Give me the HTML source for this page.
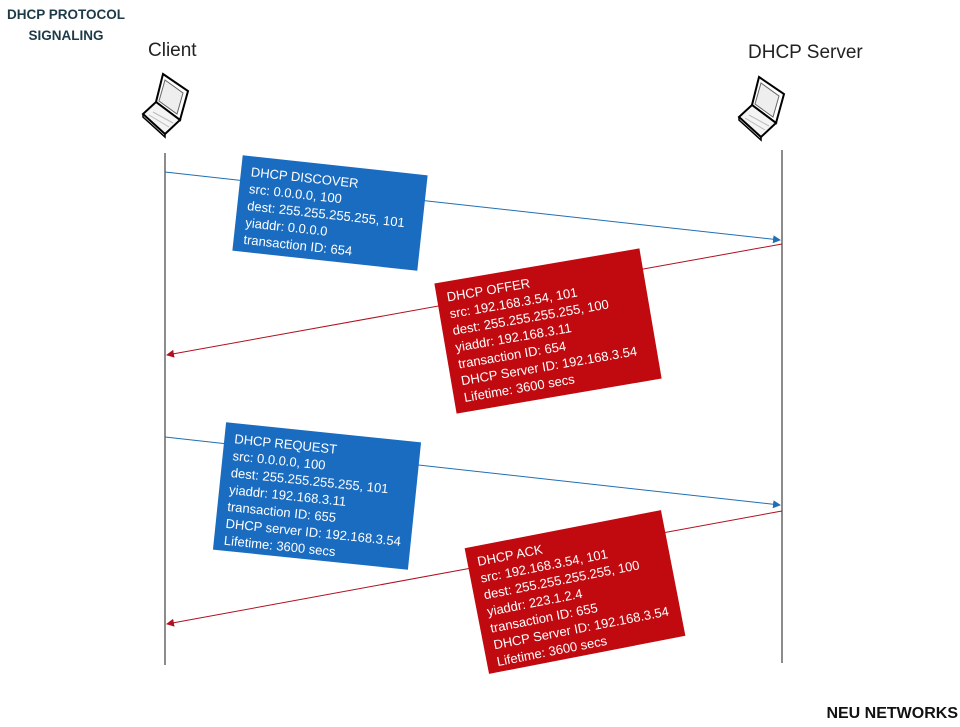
<!DOCTYPE html>
<html><head><meta charset="utf-8"><style>
html,body{margin:0;padding:0;background:#fff;}
svg{display:block;font-family:"Liberation Sans",sans-serif;}
</style></head><body>
<svg width="960" height="727" viewBox="0 0 960 727" xmlns="http://www.w3.org/2000/svg">
<defs>
<marker id="ab" markerWidth="8" markerHeight="8" refX="7" refY="4" orient="auto" markerUnits="userSpaceOnUse"><path d="M0,0 L8,4 L0,8 z" fill="#1f6fb4"/></marker>
<marker id="ar" markerWidth="8" markerHeight="8" refX="7" refY="4" orient="auto" markerUnits="userSpaceOnUse"><path d="M0,0 L8,4 L0,8 z" fill="#b01020"/></marker>
<g id="lap">
<path d="M20,0 L45,17 L37,46 L13,28 Z" fill="#fff" stroke="#000" stroke-width="2"/>
<path d="M22,6 L40,19 L34,40 L16,27 Z" fill="#eee" stroke="#666" stroke-width="1"/>
<path d="M13,28 L37,46 L22,60 L0,40 Z" fill="#f4f4f4" stroke="#000" stroke-width="2"/>
<path d="M0,40 L0,43 L22,63 L22,60" fill="none" stroke="#000" stroke-width="1.5"/>
<path d="M10,38 L30,49 M6,41 L26,53" stroke="#bbb" stroke-width="1"/>
</g>
</defs>
<text x="66" y="19" text-anchor="middle" font-size="13.5" font-weight="bold" fill="#1d3a48">DHCP PROTOCOL</text>
<text x="66" y="40" text-anchor="middle" font-size="13.5" font-weight="bold" fill="#1d3a48">SIGNALING</text>
<text x="148" y="56" font-size="19" fill="#222">Client</text>
<text x="748" y="58" font-size="19" fill="#222">DHCP Server</text>
<use href="#lap" x="143" y="74"/>
<use href="#lap" x="739" y="77"/>
<line x1="165" y1="153" x2="165" y2="665" stroke="#666" stroke-width="1.5"/>
<line x1="782" y1="150" x2="782" y2="663" stroke="#666" stroke-width="1.5"/>
<line x1="165" y1="172" x2="780" y2="240" stroke="#1f6fb4" stroke-width="1" marker-end="url(#ab)"/>
<line x1="782" y1="244" x2="167" y2="355" stroke="#b01020" stroke-width="1" marker-end="url(#ar)"/>
<line x1="165" y1="437" x2="780" y2="505" stroke="#1f6fb4" stroke-width="1" marker-end="url(#ab)"/>
<line x1="782" y1="511" x2="167" y2="624" stroke="#b01020" stroke-width="1" marker-end="url(#ar)"/>

<g transform="translate(330,213) rotate(6.2)" font-size="13" fill="#fff">
<rect x="-93" y="-48" width="186" height="96" fill="#1a6cc0"/>
<text x="-83" y="-28">DHCP DISCOVER</text>
<text x="-83" y="-11">src: 0.0.0.0, 100</text>
<text x="-83" y="6">dest: 255.255.255.255, 101</text>
<text x="-83" y="23">yiaddr: 0.0.0.0</text>
<text x="-83" y="40">transaction ID: 654</text>
</g>
<g transform="translate(548,331) rotate(-9.7)" font-size="13" fill="#fff">
<rect x="-104" y="-66" width="208" height="132" fill="#c00a10"/>
<text x="-94" y="-46">DHCP OFFER</text>
<text x="-94" y="-29">src: 192.168.3.54, 101</text>
<text x="-94" y="-12">dest: 255.255.255.255, 100</text>
<text x="-94" y="5">yiaddr: 192.168.3.11</text>
<text x="-94" y="22">transaction ID: 654</text>
<text x="-94" y="39">DHCP Server ID: 192.168.3.54</text>
<text x="-94" y="56">Lifetime: 3600 secs</text>
</g>
<g transform="translate(317,496) rotate(5.9)" font-size="13" fill="#fff">
<rect x="-98" y="-64" width="196" height="128" fill="#1a6cc0"/>
<text x="-88" y="-44">DHCP REQUEST</text>
<text x="-88" y="-27">src: 0.0.0.0, 100</text>
<text x="-88" y="-10">dest: 255.255.255.255, 101</text>
<text x="-88" y="7">yiaddr: 192.168.3.11</text>
<text x="-88" y="24">transaction ID: 655</text>
<text x="-88" y="41">DHCP server ID: 192.168.3.54</text>
<text x="-88" y="58">Lifetime: 3600 secs</text>
</g>
<g transform="translate(575,592) rotate(-11)" font-size="13" fill="#fff">
<rect x="-100" y="-64" width="200" height="128" fill="#c00a10"/>
<text x="-90" y="-44">DHCP ACK</text>
<text x="-90" y="-27">src: 192.168.3.54, 101</text>
<text x="-90" y="-10">dest: 255.255.255.255, 100</text>
<text x="-90" y="7">yiaddr: 223.1.2.4</text>
<text x="-90" y="24">transaction ID: 655</text>
<text x="-90" y="41">DHCP Server ID: 192.168.3.54</text>
<text x="-90" y="58">Lifetime: 3600 secs</text>
</g>
<text x="958" y="718" text-anchor="end" font-size="16" font-weight="bold" fill="#111">NEU NETWORKS</text>
</svg>
</body></html>
